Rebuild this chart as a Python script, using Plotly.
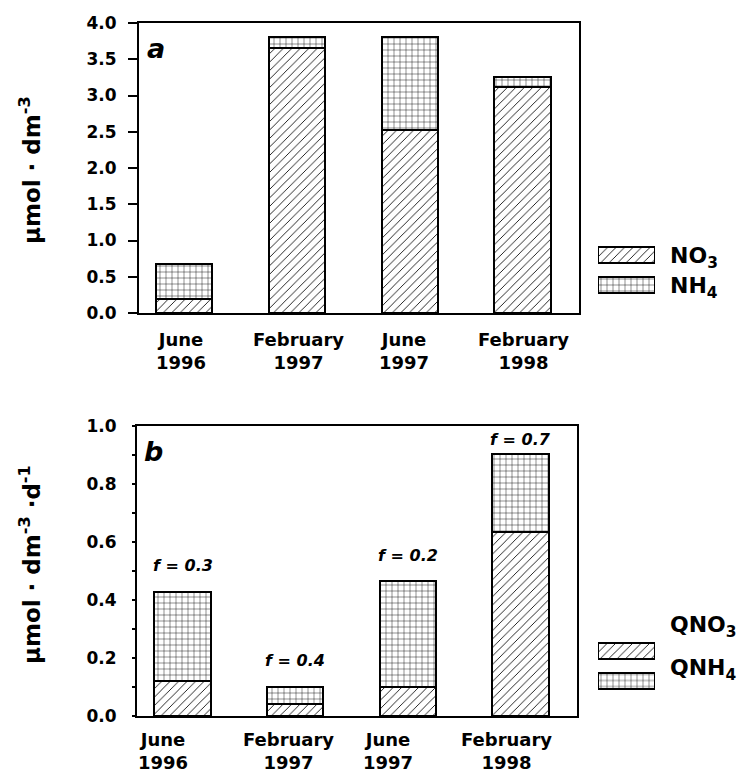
import plotly.graph_objects as go

# ---------------- data ----------------
categories = ["June<br>1996", "February<br>1997", "June<br>1997", "February<br>1998"]
no3 = [0.20, 3.66, 2.53, 3.12]
nh4 = [0.47, 0.15, 1.28, 0.13]
qno3 = [0.12, 0.04, 0.10, 0.635]
qnh4 = [0.308, 0.06, 0.365, 0.27]
f_ratio = [0.3, 0.4, 0.2, 0.7]
ytick_a = [0.0, 0.5, 1.0, 1.5, 2.0, 2.5, 3.0, 3.5, 4.0]
ytick_b = [0.0, 0.2, 0.4, 0.6, 0.8, 1.0]

# ---------------- style ----------------
W, H = 745, 773
FONT = "DejaVu Sans"
idx = list(range(len(categories)))


def px_x(p):
    return p / W


def px_y(p):
    return 1 - p / H


hatch = dict(shape="/", size=6, solidity=0.14, fgcolor="black", bgcolor="white", fillmode="replace")
grid = dict(shape="+", size=6, solidity=0.14, fgcolor="black", bgcolor="white", fillmode="replace")
outline = dict(color="black", width=2)

fig = go.Figure()

# panel a
fig.add_trace(go.Bar(x=idx, y=no3, width=0.5, marker=dict(color="white", pattern=hatch, line=outline),
                     xaxis="x", yaxis="y", name="NO3"))
fig.add_trace(go.Bar(x=idx, y=nh4, width=0.5, marker=dict(color="white", pattern=grid, line=outline),
                     xaxis="x", yaxis="y", name="NH4"))
# panel b
fig.add_trace(go.Bar(x=idx, y=qno3, width=0.5, marker=dict(color="white", pattern=hatch, line=outline),
                     xaxis="x2", yaxis="y2", name="QNO3"))
fig.add_trace(go.Bar(x=idx, y=qnh4, width=0.5, marker=dict(color="white", pattern=grid, line=outline),
                     xaxis="x2", yaxis="y2", name="QNH4"))

# legend swatches (drawn as bars on small hidden axes)
for xa, ya in (("x3", "y3"), ("x4", "y4")):
    fig.add_trace(go.Bar(x=[1], y=[0], orientation="h", width=0.56,
                         marker=dict(color="white", pattern=hatch, line=outline), xaxis=xa, yaxis=ya))
    fig.add_trace(go.Bar(x=[1], y=[1], orientation="h", width=0.56,
                         marker=dict(color="white", pattern=grid, line=outline), xaxis=xa, yaxis=ya))

axis_common = dict(showline=True, linecolor="black", linewidth=2, mirror=True, showgrid=False,
                   zeroline=False)
tickfont = dict(family=FONT, size=17, color="black", weight="bold")

hidden = dict(visible=False, showgrid=False, zeroline=False, fixedrange=True)

fig.update_layout(
    width=W, height=H,
    margin=dict(l=0, r=0, t=0, b=0),
    template="none",
    plot_bgcolor="white", paper_bgcolor="white",
    barmode="stack", bargap=0,
    showlegend=False,
    xaxis=dict(domain=[px_x(139), px_x(579)], range=[-0.40, 3.50], anchor="y",
               showticklabels=False, ticks="", **axis_common),
    yaxis=dict(domain=[px_y(313), px_y(23)], range=[0, 4], anchor="x",
               tickvals=ytick_a, tickformat=".1f", ticks="outside", ticklen=9, tickwidth=1.5,
               tickcolor="black", tickfont=tickfont, ticklabelstandoff=8, **axis_common),
    xaxis2=dict(domain=[px_x(137), px_x(577)], range=[-0.405, 3.50], anchor="y2",
                showticklabels=False, ticks="", **axis_common),
    yaxis2=dict(domain=[px_y(716), px_y(426)], range=[0, 1], anchor="x2",
                tickvals=ytick_b, tickformat=".1f", ticks="outside", ticklen=3, tickwidth=1.5,
                tickcolor="black", tickfont=tickfont, ticklabelstandoff=12,
                minor=dict(dtick=0.1, ticks="outside", ticklen=3, tickwidth=1.5, tickcolor="black"),
                **axis_common),
    xaxis3=dict(domain=[px_x(598), px_x(655)], range=[0, 1], anchor="y3", **hidden),
    yaxis3=dict(domain=[px_y(300), px_y(240)], range=[1.5, -0.5], anchor="x3", **hidden),
    xaxis4=dict(domain=[px_x(598), px_x(655)], range=[0, 1], anchor="y4", **hidden),
    yaxis4=dict(domain=[px_y(695.5), px_y(635.5)], range=[1.5, -0.5], anchor="x4", **hidden),
)

ann = []
lab_font = dict(family=FONT, size=18, color="black", weight="bold")

# x category labels
shift_a = [-3, 2, -6, 1]
shift_b = [-20, -7, -20, -14]
for i, c in enumerate(categories):
    ann.append(dict(x=i, y=0, xref="x", yref="y domain", text=c, showarrow=False, xanchor="center",
                    yanchor="top", yshift=-14, xshift=shift_a[i], font=lab_font, align="center"))
    ann.append(dict(x=i, y=0, xref="x2", yref="y2 domain", text=c, showarrow=False, xanchor="center",
                    yanchor="top", yshift=-11, xshift=shift_b[i], font=lab_font, align="center"))

# f labels
for i, f in enumerate(f_ratio):
    top = qno3[i] + qnh4[i]
    ann.append(dict(x=i, y=min(top + 0.09, 0.955), xref="x2", yref="y2",
                    text="<b><i>f = %.1f</i></b>" % f, showarrow=False, xanchor="center",
                    yanchor="middle", font=dict(family=FONT, size=16, color="black")))

# panel letters
ann.append(dict(x=px_x(156), y=px_y(49), xref="paper", yref="paper", text="<b><i>a</i></b>",
                showarrow=False, xanchor="center", yanchor="middle",
                font=dict(family=FONT, size=27, color="black")))
ann.append(dict(x=px_x(153), y=px_y(451), xref="paper", yref="paper", text="<b><i>b</i></b>",
                showarrow=False, xanchor="center", yanchor="middle",
                font=dict(family=FONT, size=27, color="black")))

# y axis titles
title_font = dict(family=FONT, size=23, color="black", weight="bold")
ann.append(dict(x=px_x(30), y=px_y(170), xref="paper", yref="paper", textangle=-90,
                text="μmol · dm<sup>-3</sup>", showarrow=False, xanchor="center", yanchor="middle",
                font=title_font))
ann.append(dict(x=px_x(30), y=px_y(565), xref="paper", yref="paper", textangle=-90,
                text="μmol · dm<sup>-3</sup> ·d<sup>-1</sup>", showarrow=False, xanchor="center",
                yanchor="middle", font=title_font))

# legend texts
leg_font = dict(family=FONT, size=22, color="black", weight="bold")
for txt, yy in (("NO<sub>3</sub>", 257), ("NH<sub>4</sub>", 287), ("QNO<sub>3</sub>", 626), ("QNH<sub>4</sub>", 669)):
    ann.append(dict(x=px_x(668), y=px_y(yy), xref="paper", yref="paper", text=txt, showarrow=False,
                    xanchor="left", yanchor="middle", font=leg_font))

fig.update_layout(annotations=ann)
fig.write_html("out.html", config={"displayModeBar": False},
               post_script="document.body.style.margin='0px';document.body.style.padding='0px';")
